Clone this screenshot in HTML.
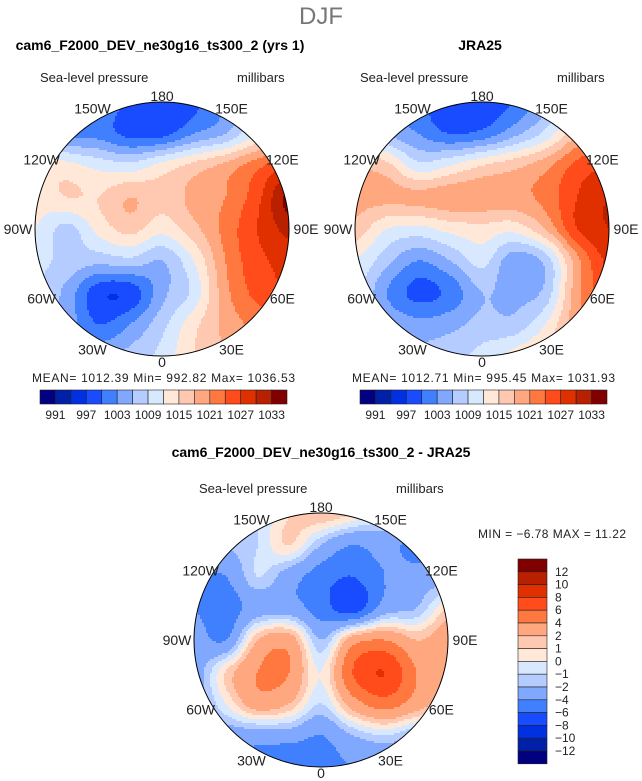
<!DOCTYPE html>
<html><head><meta charset="utf-8"><style>
body{margin:0;background:#fff;}
svg{display:block;font-family:"Liberation Sans",sans-serif;}
</style></head><body>
<svg id="root" width="642" height="781" viewBox="0 0 642 781">
<text x="321" y="24" text-anchor="middle" font-size="24" fill="#777">DJF</text>
<text x="160" y="50" text-anchor="middle" font-size="14" font-weight="bold">cam6_F2000_DEV_ne30g16_ts300_2 (yrs 1)</text>
<text x="480" y="50" text-anchor="middle" font-size="14" font-weight="bold">JRA25</text>
<text x="321" y="457" text-anchor="middle" font-size="14" font-weight="bold">cam6_F2000_DEV_ne30g16_ts300_2 - JRA25</text>
<g id="maps"></g>
</svg>
<script>
const levelColors=["#000080","#0020a8","#0030e0","#1a4cff","#4080ff","#80a8ff","#b4ccff","#d8e8ff","#ffe8d8","#ffc8b0","#ffa880","#ff7840","#ff4c1a","#e03000","#b82000","#800000"];
const absLevels=[991,994,997,1000,1003,1006,1009,1012,1015,1018,1021,1024,1027,1030,1033];
const absLabels=["991","997","1003","1009","1015","1021","1027","1033"];
const diffLevels=[-12,-10,-8,-6,-4,-2,-1,0,1,2,4,6,8,10,12];
const diffLabels=["12","10","8","6","4","2","1","0","\u22121","\u22122","\u22124","\u22126","\u22128","\u221210","\u221212"];
const modelField=[
[1005,1004,1003,999,997,999,1003,1009,1013],
[1009,1003,1002,999,999,1003,1006,1012,1014],
[1014,1013,1011,1010,1013,1016,1019,1023,1027],
[1013,1015,1015,1018,1016,1019,1021,1026,1034],
[1012,1008,1013,1016,1013,1017,1022,1027,1031],
[1010,1008,1007,1008,1006,1012,1021,1026,1028],
[1009,1005,998,998,1005,1010,1020,1025,1027],
[1008,1005,1000,1003,1008,1014,1019,1022,1024],
[1008,1006,1005,1007,1010,1015,1018,1020,1022]];
const obsField=[
[1006,1004,1001,997,998,1000,1005,1012,1016],
[1012,1006,1003,1000,1001,1005,1010,1018,1024],
[1018,1016,1010,1012,1015,1017,1020,1025,1027],
[1019,1019,1019,1020,1020,1020,1022,1027,1030],
[1017,1012,1011,1013,1014,1013,1018,1027,1030],
[1012,1007,1003,1006,1010,1004,1007,1020,1028],
[1010,1003,999,1001,1006,1005,1007,1020,1026],
[1010,1006,1004,1005,1007,1007,1012,1020,1023],
[1010,1008,1007,1008,1010,1013,1016,1019,1021]];
const diffField=[
[-2,-2,-1,1,2,1,-1,-3,-4],
[-3,-2,-1,1,-2,-4,-3,-5,-5],
[-4,-4,-1,-3,-5,-6,-4,-3,-3],
[-4,-5,-3,-3,-5,-7,-3,-2,1],
[-3,-4,2,3,-2,3,4,2,3],
[-3,1,4,4,0,6,8,4,2],
[-3,0,3,2,-1,3,5,3,1],
[-3,-3,-3,-3,-4,-2,-1,-2,-2],
[-3,-4,-5,-6,-5,-4,-4,-3,-3]];
const lonLabels=["180","150E","120E","90E","60E","30E","0","30W","60W","90W","120W","150W"];

const NS="http://www.w3.org/2000/svg";
const root=document.getElementById('maps');
function el(t,a,p){const e=document.createElementNS(NS,t);for(const k in a)e.setAttribute(k,a[k]);(p||root).appendChild(e);return e;}
function levelIndex(v,lv){let i=0;while(i<lv.length&&v>=lv[i])i++;return i;}
function cr(p0,p1,p2,p3,t){return 0.5*((2*p1)+(-p0+p2)*t+(2*p0-5*p1+4*p2-p3)*t*t+(-p0+3*p1-3*p2+p3)*t*t*t);}
function sample(f,u,v){const n=f.length-1;const x=u*n,y=v*n;const i=Math.min(n-1,Math.floor(x)),j=Math.min(n-1,Math.floor(y));const fx=x-i,fy=y-j;
  const g=(a,b)=>f[Math.max(0,Math.min(n,b))][Math.max(0,Math.min(n,a))];
  const rows=[];for(let k=-1;k<=2;k++)rows.push(cr(g(i-1,j+k),g(i,j+k),g(i+1,j+k),g(i+2,j+k),fx));
  return cr(rows[0],rows[1],rows[2],rows[3],fy);}

function drawMap(id,cx,cy,r,field,lv){
  const g=el('g',{});
  
  
  el('clipPath',{id:id+'-clip'},g);
  el('circle',{cx:cx,cy:cy,r:r},g.lastChild);
  const fg=el('g',{'clip-path':'url(#'+id+'-clip)'},g);
  
  
  const step=2,N=Math.ceil(2*r/step);
  for(let j=0;j<N;j++){
    let start=0,cur=null;
    for(let i=0;i<=N;i++){
      const c=i<N?levelIndex(sample(field,(i+0.5)/N,(j+0.5)/N),lv):-1;
      if(c!==cur){
        if(cur!==null&&cur>=0){const rc=el('rect',{x:cx-r+start*step,y:cy-r+j*step,width:(i-start)*step+0.5,height:step+0.5,fill:levelColors[cur]},fg);
          
          }
        cur=c;start=i;}
    }
  }
  const b=el('circle',{cx:cx,cy:cy,r:r,fill:'none',stroke:'#000','stroke-width':1},g);
  
  
  lonLabels.forEach((t,k)=>{
    const a=k*30*Math.PI/180;
    const rr=r+(k===3||k===9?17:(k%3===0?6:12));
    const tx=cx+rr*Math.sin(a),ty=cy-rr*Math.cos(a)+5;
    const te=el('text',{x:tx,y:ty,'text-anchor':'middle','font-size':14,fill:'#222'},g);
    te.textContent=t;
    
    
  });
  const t1=el('text',{x:cx-122,y:cy-147,'font-size':13,fill:'#222'},g);t1.textContent='Sea-level pressure';
  
  
  const t2=el('text',{x:cx+75,y:cy-147,'font-size':13,fill:'#222'},g);t2.textContent='millibars';
  
  
}
function hbar(id,x0,y0,w,h,stats){
  const g=el('g',{});
  
  
  const bw=w/levelColors.length;
  levelColors.forEach((c,i)=>{const r=el('rect',{x:x0+i*bw,y:y0,width:bw,height:h,fill:c,stroke:'#222','stroke-width':0.6},g);
    
    });
  absLabels.forEach((t,k)=>{const te=el('text',{x:x0+(1+2*k)*bw,y:y0+h+15,'text-anchor':'middle','font-size':12,fill:'#222'},g);te.textContent=t;
    
    });
  const s=el('text',{x:x0-8,y:y0-8,'font-size':12,fill:'#222',textLength:263,lengthAdjust:'spacing'},g);s.textContent=stats;
  
  
}
drawMap('model',162,229,127,modelField,absLevels);
drawMap('obs',482,229,127,obsField,absLevels);
drawMap('diff',321,640,127,diffField,diffLevels);
hbar('model',40,390,247,14,'MEAN= 1012.39  Min= 992.82  Max= 1036.53');
hbar('obs',360,390,247,14,'MEAN= 1012.71  Min= 995.45  Max= 1031.93');
(function(){
  const g=el('g',{});
  
  
  const x0=518,y0=559,w=29,bh=12.8,n=levelColors.length;
  for(let i=0;i<n;i++){const r=el('rect',{x:x0,y:y0+i*bh,width:w,height:bh,fill:levelColors[n-1-i],stroke:'#222','stroke-width':0.6},g);
    
    }
  diffLabels.forEach((t,k)=>{const te=el('text',{x:x0+w+8,y:y0+(k+1)*bh+4,'font-size':12,fill:'#222'},g);te.textContent=t;
    
    });
  const s=el('text',{x:478,y:538,'font-size':12,fill:'#222',textLength:148,lengthAdjust:'spacing'},g);s.textContent='MIN =  \u22126.78  MAX =  11.22';
  
  
})();
</script>
</body></html>
